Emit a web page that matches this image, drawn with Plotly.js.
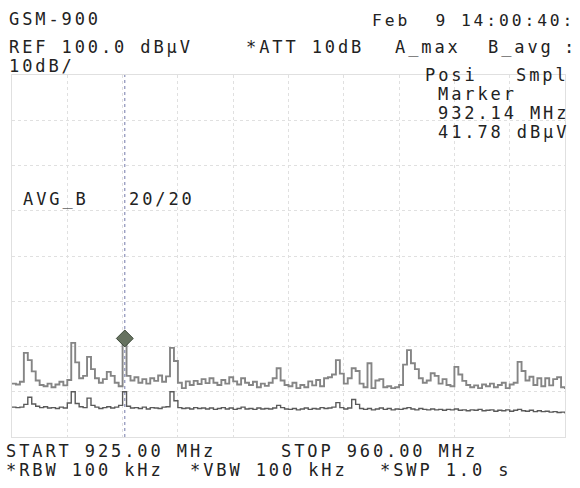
<!DOCTYPE html>
<html>
<head>
<meta charset="utf-8">
<script src="https://cdn.plot.ly/plotly-3.0.1.min.js"></script>
<style>
  html, body { margin: 0; padding: 0; background: #fff; }
  #chart { width: 580px; height: 488px; }
  .annotation-text { letter-spacing: 2.9px; }
</style>
</head>
<body>
<div id="chart"></div>
<script>
// Sweep settings (MHz)
const START_MHZ = 925.0;
const STOP_MHZ = 960.0;
const STEP_MHZ = 0.25;
const REF_LEVEL = 100;   // dBµV, top of screen
const BOTTOM_LEVEL = 20; // 8 div x 10 dB

// Marker
const MARKER_FREQ = 932.14;
const MARKER_LEVEL = 41.78;

// Trace A: max hold (dBµV), one value per sweep point
const A_max = [
  31.8, 31.6, 32.2, 38.6, 37.0, 34.5, 32.5, 31.5, 31.2, 31.8,
  31.0, 31.6, 32.2, 31.4, 32.6, 40.8, 36.5, 33.0, 33.5, 37.7,
  35.0, 33.0, 32.0, 32.8, 34.4, 33.5, 32.0, 31.2, 41.8, 33.5,
  32.5, 33.2, 32.0, 32.8, 31.8, 33.0, 32.4, 33.6, 32.2, 33.4,
  39.7, 36.8, 32.0, 30.8, 32.3, 31.5, 32.4, 31.7, 32.8, 31.9,
  33.0, 32.0, 31.5, 32.6, 31.8, 33.2, 32.3, 31.6, 33.0, 32.0,
  31.5, 32.2, 31.0, 31.8, 31.3, 32.0, 33.0, 35.2, 32.5, 31.5,
  31.2, 32.0, 30.8, 31.5, 31.0, 32.3, 31.4, 32.6, 31.2, 33.0,
  33.2, 33.8, 37.0, 34.0, 31.8, 33.0, 35.2, 34.6, 31.8, 31.0,
  36.3, 30.8, 32.5, 32.8, 31.0, 31.2, 30.8, 31.0, 31.5, 36.0,
  39.2, 36.3, 35.0, 33.0, 32.0, 32.5, 34.1, 33.5, 31.8, 32.8,
  31.5, 31.2, 35.5, 33.8, 32.4, 31.5, 31.0, 31.4, 30.8, 31.6,
  31.2, 31.8, 31.0, 31.5, 32.0, 30.8, 31.6, 32.0, 36.6, 34.6,
  32.5, 33.3, 31.5, 33.0, 31.2, 33.0, 31.4, 32.8, 33.2, 31.0, 30.6
];

// Trace B: average (dBµV)
const B_avg = [
  26.6, 26.5, 26.6, 27.2, 28.8, 27.3, 26.8, 26.5, 26.7, 26.4,
  26.5, 26.3, 26.6, 26.4, 27.5, 30.0, 27.4, 26.7, 26.5, 28.6,
  27.0, 26.6, 26.3, 26.5, 26.7, 26.4, 26.6, 27.0, 30.0, 26.8,
  26.4, 26.5, 26.3, 26.6, 26.2, 26.5, 26.4, 26.3, 26.6, 26.7,
  30.0, 28.0, 26.5, 26.3, 26.4, 26.2, 26.5, 26.3, 26.4, 26.2,
  26.4, 26.1, 26.3, 26.5, 26.2, 26.4, 26.1, 26.3, 26.6, 26.2,
  26.3, 26.1, 26.4, 26.2, 26.3, 26.2, 26.4, 27.0, 26.5, 26.2,
  26.1, 26.3, 26.0, 26.2, 26.4, 26.1, 26.3, 26.2, 26.5, 26.3,
  26.4, 26.6, 27.6, 26.5, 26.2, 26.4, 28.3, 27.2, 26.3, 26.1,
  26.3, 26.0, 26.2, 26.4, 26.1, 26.3, 26.0, 26.2, 26.1, 26.3,
  26.5, 26.2, 26.0, 26.3, 26.1, 26.0, 26.2, 26.0, 26.1, 25.9,
  26.1, 26.0, 26.2, 25.9, 26.0, 25.8, 26.0, 25.9, 26.1, 25.8,
  25.9, 26.0, 25.7, 25.9, 25.8, 26.0, 25.7, 25.9, 26.1, 25.8,
  25.7, 25.9, 25.6, 25.8, 25.6, 25.7, 25.5, 25.6, 25.4, 25.5, 25.2
];

// Screen texts
const headerLeft = ["GSM-900", "REF 100.0 dBµV", "10dB/"];
const dateText = "Feb  9 14:00:40:";
const settingsRow = ["*ATT 10dB", "A_max", "B_avg", ":"];
const detectorRow = ["Posi", "Smpl"];
const markerLines = ["Marker", "932.14 MHz", "41.78 dBµV"];
const avgTexts = ["AVG_B", "20/20"];
const footerRow1 = ["START 925.00 MHz", "STOP 960.00 MHz"];
const footerRow2 = ["*RBW 100 kHz", "*VBW 100 kHz", "*SWP 1.0 s"];

// Sweep frequency grid
const freqs = A_max.map((_, i) => START_MHZ + i * STEP_MHZ);

// pixel -> paper helpers for the plot area (x 12..565, y 75..437)
const PL = 12, PR = 565, PT = 75, PB = 437;
const px = v => (v - PL) / (PR - PL);
const py = v => (PB - v) / (PB - PT);

const FONT = { family: "DejaVu Sans Mono, monospace", size: 17, color: "#222222" };
function txt(text, x, y, opts) {
  const a = { text: text, xref: "paper", yref: "paper", x: px(x), y: py(y),
           xanchor: "left", yanchor: "middle", showarrow: false, font: FONT };
  return Object.assign(a, opts || {});
}

const annotations = [
  txt(headerLeft[0], 7, 19),
  txt(dateText, 370, 20, { font: Object.assign({}, FONT, { size: 16.3 }) }),
  txt(headerLeft[1], 7, 47),
  txt(settingsRow[0], 244, 47),
  txt(settingsRow[1], 393, 47),
  txt(settingsRow[2], 486, 47),
  txt(settingsRow[3], 579, 47, { xanchor: "right" }),
  txt(headerLeft[2], 7, 66),
  txt(detectorRow[0], 423, 75),
  txt(detectorRow[1], 514, 75),
  txt(markerLines[0], 436, 94),
  txt(markerLines[1], 436, 113),
  txt(markerLines[2], 436, 132),
  txt(avgTexts[0], 21, 199),
  txt(avgTexts[1], 127, 199),
  txt(footerRow1[0], 4, 451),
  txt(footerRow1[1], 279, 451),
  txt(footerRow2[0], 4, 470),
  txt(footerRow2[1], 188, 470),
  txt(footerRow2[2], 378, 470)
];

const traces = [
  { x: freqs, y: B_avg, type: "scatter", mode: "lines", line: { color: "#5a5a5a", width: 1.4, shape: "hv" }, hoverinfo: "skip" },
  { x: freqs, y: A_max, type: "scatter", mode: "lines", line: { color: "#858585", width: 1.9, shape: "hv" }, hoverinfo: "skip" },
  { x: [MARKER_FREQ], y: [MARKER_LEVEL], type: "scatter", mode: "markers",
    marker: { symbol: "diamond", size: 13, color: "#66725f", line: { color: "#3d4a3a", width: 1 } }, hoverinfo: "skip" }
];

const gridCol = "#e0e0e0";
const layout = {
  width: 580, height: 488,
  margin: { l: PL, r: 580 - PR, t: PT, b: 488 - PB, pad: 0 },
  paper_bgcolor: "#ffffff", plot_bgcolor: "#ffffff",
  showlegend: false,
  xaxis: { range: [START_MHZ, STOP_MHZ], tick0: START_MHZ, dtick: (STOP_MHZ - START_MHZ) / 10,
           showticklabels: false, ticks: "", showgrid: true, gridcolor: gridCol, griddash: "dot", gridwidth: 1,
           zeroline: false, showline: true, linecolor: gridCol, mirror: true, fixedrange: true },
  yaxis: { range: [BOTTOM_LEVEL, REF_LEVEL], tick0: BOTTOM_LEVEL, dtick: 10,
           showticklabels: false, ticks: "", showgrid: true, gridcolor: gridCol, griddash: "dot", gridwidth: 1,
           zeroline: false, showline: true, linecolor: gridCol, mirror: true, fixedrange: true },
  shapes: [
    { type: "line", xref: "x", yref: "paper", x0: MARKER_FREQ, x1: MARKER_FREQ, y0: 0, y1: 1,
      line: { color: "#7479aa", width: 1, dash: "dot" }, layer: "below" }
  ],
  annotations: annotations
};

Plotly.newPlot("chart", traces, layout, { displayModeBar: false, staticPlot: true });
</script>
</body>
</html>
